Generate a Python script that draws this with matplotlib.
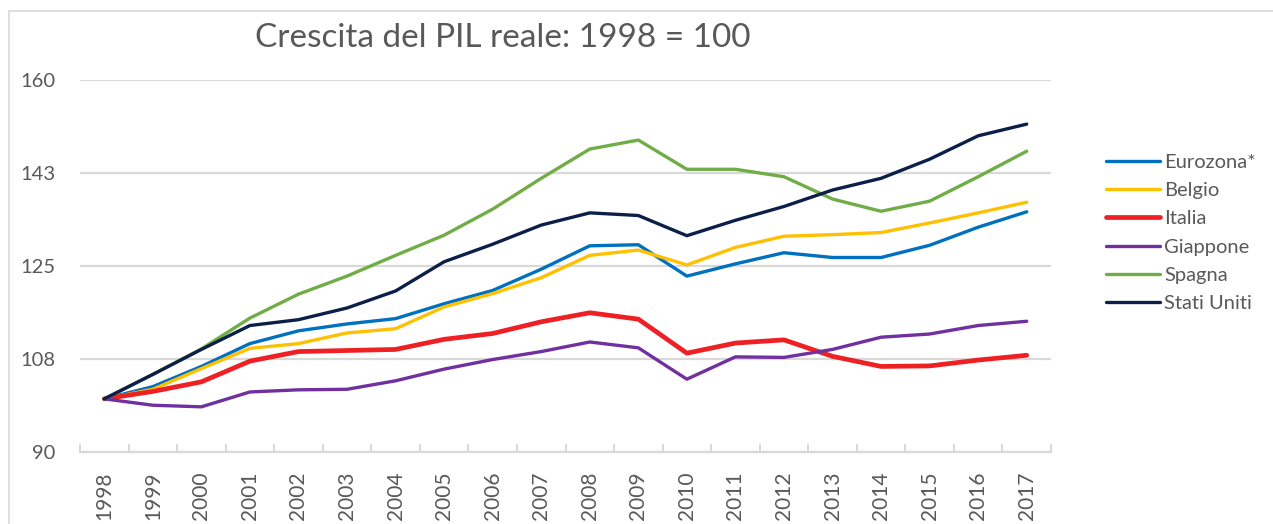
import math

import matplotlib

matplotlib.use("Agg")
from matplotlib import pyplot as plt
from matplotlib.patches import Rectangle

# Data (index, 1998 = 100)
years = [str(y) for y in range(1998, 2018)]
eurozona = [100, 102.3, 106.1, 110.4, 112.8, 114.1, 115.1, 117.9, 120.4, 124.4,
            128.8, 129.0, 123.1, 125.4, 127.5, 126.6, 126.6, 128.9, 132.3, 135.2]
belgio = [100, 101.8, 105.7, 109.5, 110.4, 112.4, 113.2, 117.3, 119.8, 122.8,
          127.0, 128.0, 125.2, 128.5, 130.6, 130.9, 131.3, 133.1, 135.0, 137.0]
italia = [100, 101.4, 103.2, 107.1, 108.9, 109.1, 109.3, 111.2, 112.3, 114.5,
          116.2, 115.0, 108.6, 110.5, 111.1, 108.0, 106.1, 106.2, 107.3, 108.2]
giappone = [100, 98.8, 98.5, 101.3, 101.7, 101.8, 103.4, 105.6, 107.4, 108.9,
            110.7, 109.6, 103.7, 107.9, 107.8, 109.3, 111.6, 112.2, 113.8, 114.6]
spagna = [100, 104.6, 109.4, 115.2, 119.7, 123.1, 127.0, 130.8, 135.7, 141.5,
          147.0, 148.7, 143.2, 143.2, 141.8, 137.6, 135.3, 137.2, 141.8, 146.6]
stati_uniti = [100, 104.6, 109.3, 113.8, 114.9, 117.1, 120.3, 125.8, 129.1, 132.7,
               135.0, 134.5, 130.7, 133.6, 136.2, 139.3, 141.5, 145.1, 149.5, 151.7]

series = [
    ("Eurozona*", eurozona, "#0070C0", 2.4),
    ("Belgio", belgio, "#FFC000", 2.4),
    ("Italia", italia, "#EE2024", 3.4),
    ("Giappone", giappone, "#7030A0", 2.4),
    ("Spagna", spagna, "#70AD47", 2.4),
    ("Stati Uniti", stati_uniti, "#0C1F4A", 2.4),
]
y_ticks = [90, 107.5, 125, 142.5, 160]

grey_text = "#595959"
grid_col = "#D9D9D9"
plt.rcParams["font.family"] = ["Lato", "DejaVu Sans"]

fig = plt.figure(figsize=(12.73, 5.24), dpi=100)
fig.patches.append(Rectangle((9 / 1273, -0.1), 1.2, 1 - 11 / 524 + 0.1,
                             transform=fig.transFigure, fill=False,
                             edgecolor=grid_col, linewidth=1.2))
ax = fig.add_axes([80 / 1273, 1 - 452 / 524, (1051 - 80) / 1273, (452 - 80) / 524])

x = list(range(len(years)))
for name, values, color, lw in series:
    ax.plot(x, values, color=color, linewidth=lw, label=name,
            solid_capstyle="round", solid_joinstyle="round")

ax.set_xlim(-0.5, len(years) - 0.5)
ax.set_ylim(90, 160)
ax.set_yticks(y_ticks)
ax.set_yticklabels([str(int(math.floor(v + 0.5))) for v in y_ticks])
ax.set_xticks(x)
ax.set_xticklabels(years, rotation=90)
ax.set_xticks([i - 0.5 for i in range(len(years) + 1)], minor=True)
ax.tick_params(axis="x", which="major", length=0, pad=14, labelsize=15,
               labelcolor=grey_text)
ax.tick_params(axis="x", which="minor", length=6, width=1.5, direction="in",
               color=grid_col)
ax.tick_params(axis="y", length=0, pad=18, labelsize=14.5, labelcolor=grey_text)

ax.grid(axis="y", color=grid_col, linewidth=1.6)
ax.set_axisbelow(True)
for side in ["left", "right", "top"]:
    ax.spines[side].set_visible(False)
ax.spines["bottom"].set_color(grid_col)
ax.spines["bottom"].set_linewidth(1.6)

fig.text(503 / 1273, 1 - 38 / 524, "Crescita del PIL reale: 1998 = 100",
         ha="center", va="center", fontsize=24, color=grey_text)

fig.legend(loc="upper left", bbox_to_anchor=(1098 / 1273, 1 - 146 / 524),
           frameon=False, fontsize=14.5, handlelength=2.7, handletextpad=0.2,
           labelspacing=0.55, labelcolor=grey_text, borderaxespad=0)

plt.savefig("out.png", dpi=100)
plt.close()
